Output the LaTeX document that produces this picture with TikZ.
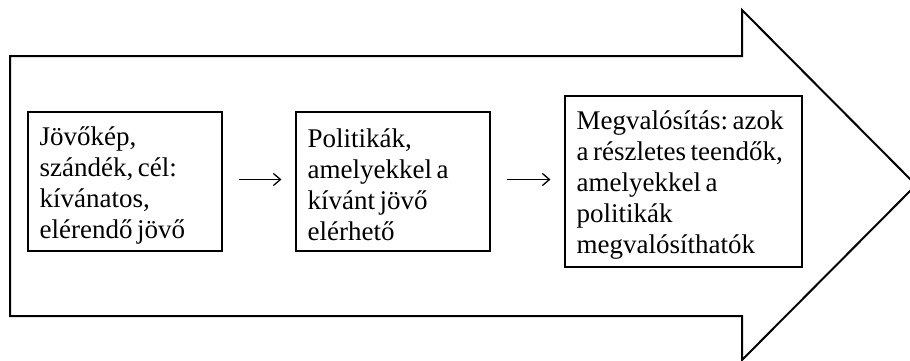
\documentclass[tikz,border=0pt]{standalone}
\usepackage{fontspec}
\setmainfont{Liberation Serif}
\usetikzlibrary{arrows.meta}
\newcommand{\stageboxfont}{\fontsize{27}{31}\selectfont\frenchspacing\spaceskip=4.5pt plus 2pt minus 1pt\relax}
\begin{document}
\begin{tikzpicture}[x=1pt,y=1pt,
  stagebox/.style={draw, line width=1.1pt, inner sep=0pt, anchor=center},
  stagetext/.style={align=left, inner sep=0pt, anchor=west, font=\stageboxfont},
  flowarrow/.style={-{Straight Barb[length=7pt,width=12pt,line width=1.3pt]}, line width=1.4pt, shorten <=16pt, shorten >=14pt}]
\useasboundingbox (0,0) rectangle (910,360);
\begin{scope}
\clip (0,0) rectangle (910,360);
\draw[line width=2pt, line join=miter] (10,304) -- (742,304) -- (742,350) -- (916,175) -- (742,0) -- (742,44) -- (10,44) -- cycle;
\end{scope}
\node[stagebox, minimum width=194pt, minimum height=139pt] (b1) at (125,178.5) {};
\node[stagebox, minimum width=194pt, minimum height=139pt] (b2) at (393,178.5) {};
\node[stagebox, minimum width=237pt, minimum height=171pt] (b3) at (683.5,178.5) {};
\node[stagetext] (t1) at ([xshift=12pt,yshift=-3.5pt]b1.west)
  {Jövőkép,\\ szándék, cél:\\ kívánatos,\\ elérendő jövő};
\node[stagetext] (t2) at ([xshift=12pt,yshift=-3.5pt]b2.west)
  {Politikák,\\ amelyekkel a\\ kívánt jövő\\ elérhető};
\node[stagetext] (t3) at ([xshift=12pt,yshift=-3.5pt]b3.west)
  {Megvalósítás: azok\\ a részletes teendők,\\ amelyekkel a\\ politikák\\ megvalósíthatók};
\draw[flowarrow] ([yshift=2pt]b1.east) -- ([yshift=2pt]b2.west);
\draw[flowarrow] ([yshift=2pt]b2.east) -- ([yshift=2pt]b3.west);
\end{tikzpicture}
\end{document}
